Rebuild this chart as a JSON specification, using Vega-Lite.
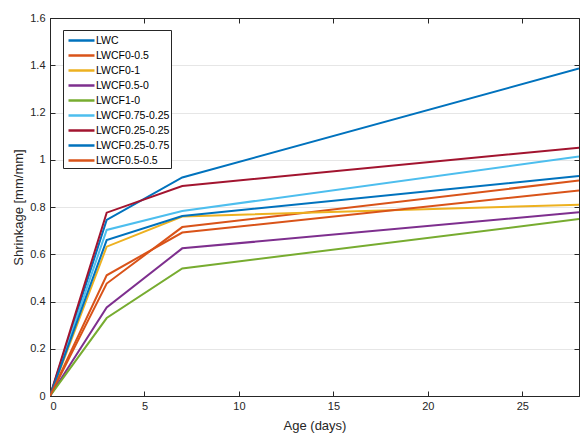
{
  "$schema": "https://vega.github.io/schema/vega-lite/v6.json",
  "width": 529,
  "height": 378,
  "autosize": {"type": "none"},
  "padding": {"left": 50, "top": 18, "right": 2, "bottom": 38},
  "background": "white",
  "config": {
    "font": "Liberation Sans",
    "view": {"stroke": "#262626", "strokeWidth": 1},
    "axis": {
      "labelFont": "Liberation Sans",
      "titleFont": "Liberation Sans",
      "labelFontSize": 11,
      "titleFontSize": 13,
      "titleFontWeight": "normal",
      "labelColor": "#262626",
      "titleColor": "#262626",
      "domainColor": "#262626",
      "tickColor": "#262626",
      "gridColor": "#e6e6e6",
      "gridWidth": 1
    }
  },
  "data": {
    "values": [
      {"series": "LWC", "age": 0, "value": 0},
      {"series": "LWC", "age": 3, "value": 0.745},
      {"series": "LWC", "age": 7, "value": 0.925},
      {"series": "LWC", "age": 28, "value": 1.386},
      {"series": "LWCF0-0.5", "age": 0, "value": 0},
      {"series": "LWCF0-0.5", "age": 3, "value": 0.476},
      {"series": "LWCF0-0.5", "age": 7, "value": 0.715},
      {"series": "LWCF0-0.5", "age": 28, "value": 0.912},
      {"series": "LWCF0-1", "age": 0, "value": 0},
      {"series": "LWCF0-1", "age": 3, "value": 0.632},
      {"series": "LWCF0-1", "age": 7, "value": 0.76},
      {"series": "LWCF0-1", "age": 28, "value": 0.81},
      {"series": "LWCF0.5-0", "age": 0, "value": 0},
      {"series": "LWCF0.5-0", "age": 3, "value": 0.375},
      {"series": "LWCF0.5-0", "age": 7, "value": 0.625},
      {"series": "LWCF0.5-0", "age": 28, "value": 0.778},
      {"series": "LWCF1-0", "age": 0, "value": 0},
      {"series": "LWCF1-0", "age": 3, "value": 0.33},
      {"series": "LWCF1-0", "age": 7, "value": 0.54},
      {"series": "LWCF1-0", "age": 28, "value": 0.749},
      {"series": "LWCF0.75-0.25", "age": 0, "value": 0},
      {"series": "LWCF0.75-0.25", "age": 3, "value": 0.703},
      {"series": "LWCF0.75-0.25", "age": 7, "value": 0.783},
      {"series": "LWCF0.75-0.25", "age": 28, "value": 1.014},
      {"series": "LWCF0.25-0.25", "age": 0, "value": 0},
      {"series": "LWCF0.25-0.25", "age": 3, "value": 0.776},
      {"series": "LWCF0.25-0.25", "age": 7, "value": 0.889},
      {"series": "LWCF0.25-0.25", "age": 28, "value": 1.051},
      {"series": "LWCF0.25-0.75", "age": 0, "value": 0},
      {"series": "LWCF0.25-0.75", "age": 3, "value": 0.66},
      {"series": "LWCF0.25-0.75", "age": 7, "value": 0.762},
      {"series": "LWCF0.25-0.75", "age": 28, "value": 0.931},
      {"series": "LWCF0.5-0.5", "age": 0, "value": 0},
      {"series": "LWCF0.5-0.5", "age": 3, "value": 0.511},
      {"series": "LWCF0.5-0.5", "age": 7, "value": 0.692},
      {"series": "LWCF0.5-0.5", "age": 28, "value": 0.87}
    ]
  },
  "layer": [
    {
      "mark": {"type": "line", "strokeWidth": 2, "clip": true},
      "encoding": {
        "x": {
          "field": "age", "type": "quantitative",
          "scale": {"domain": [0, 28], "nice": false},
          "axis": {
            "title": "Age (days)", "values": [0, 5, 10, 15, 20, 25],
            "grid": false, "tickSize": -5, "labelPadding": 9, "titlePadding": 8
          }
        },
        "y": {
          "field": "value", "type": "quantitative",
          "scale": {"domain": [0, 1.6], "nice": false},
          "axis": {
            "title": "Shrinkage [mm/mm]",
            "values": [0, 0.2, 0.4, 0.6, 0.8, 1, 1.2, 1.4, 1.6],
            "format": ".1~f",
            "grid": true, "tickSize": -5, "labelPadding": 10, "titlePadding": 4
          }
        },
        "color": {
          "field": "series", "type": "nominal",
          "scale": {
            "domain": ["LWC", "LWCF0-0.5", "LWCF0-1", "LWCF0.5-0", "LWCF1-0", "LWCF0.75-0.25", "LWCF0.25-0.25", "LWCF0.25-0.75", "LWCF0.5-0.5"],
            "range": ["#0072BD", "#D95319", "#EDB120", "#7E2F8E", "#77AC30", "#4DBEEE", "#A2142F", "#0072BD", "#D95319"]
          },
          "legend": {
            "title": null,
            "orient": "none",
            "legendX": 13,
            "legendY": 12,
            "symbolType": "M-0.667,0H2.8",
            "symbolSize": 225,
            "symbolStrokeWidth": 2.5,
            "labelFont": "Liberation Sans",
            "labelFontSize": 10.5,
            "labelColor": "#000000",
            "rowPadding": 0,
            "padding": 1.5,
            "fillColor": "white",
            "strokeColor": "#262626",
            "labelOffset": 13.5
          }
        }
      }
    },
    {
      "mark": {"type": "line", "opacity": 0},
      "encoding": {
        "x": {
          "field": "age", "type": "quantitative",
          "axis": {"orient": "top", "title": null, "labels": false, "values": [0, 5, 10, 15, 20, 25], "grid": false, "tickSize": -5}
        },
        "y": {
          "field": "value", "type": "quantitative",
          "axis": {"orient": "right", "title": null, "labels": false, "values": [0, 0.2, 0.4, 0.6, 0.8, 1, 1.2, 1.4, 1.6], "grid": false, "tickSize": -5}
        },
        "detail": {"field": "series"}
      }
    }
  ],
  "resolve": {"axis": {"x": "independent", "y": "independent"}}
}
